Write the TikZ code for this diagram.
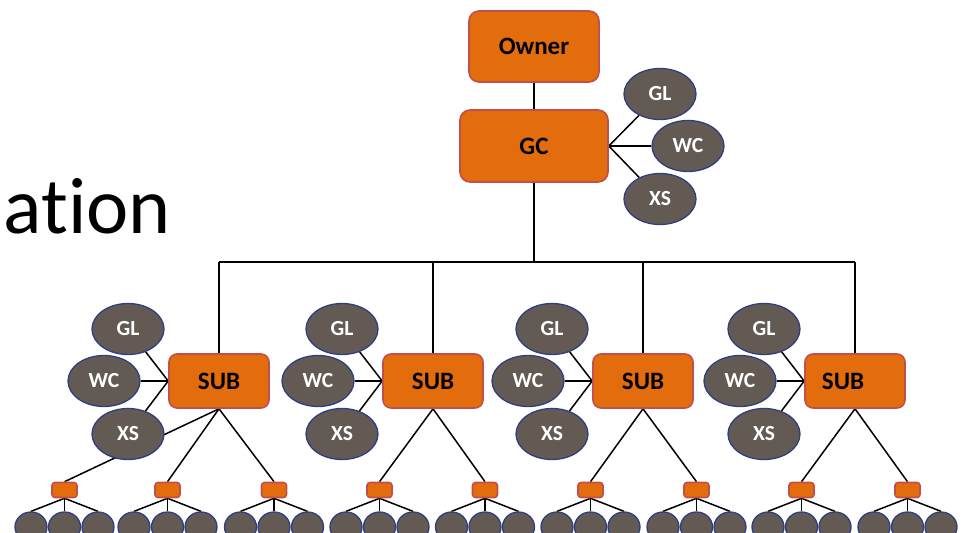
\documentclass[tikz,border=0pt]{standalone}
\usepackage{fontspec}
\setmainfont{Carlito}[Ligatures=NoCommon]
\usetikzlibrary{shapes.geometric}

\definecolor{boxorange}{RGB}{227,108,12}
\definecolor{boxedge}{RGB}{192,80,77}
\definecolor{ovalfill}{RGB}{99,91,83}
\definecolor{ovaledge}{RGB}{47,62,130}

\pgfdeclarelayer{bg}
\pgfsetlayers{bg,main}

\begin{document}
\begin{tikzpicture}[x=1pt,y=-1pt,
  role/.style={draw=boxedge, line width=1.6pt, fill=boxorange, inner sep=0pt,
    font=\fontsize{25}{25}\selectfont\bfseries},
  bigbox/.style={role, rounded corners=10pt},
  subbox/.style={role, rounded corners=8pt, minimum width=100pt, minimum height=54pt},
  leafbox/.style={role, rounded corners=3pt, minimum width=25pt, minimum height=15pt},
  oval/.style={ellipse, draw=ovaledge, line width=1.3pt, fill=ovalfill, inner sep=0pt,
    text=white, font=\fontsize{21.5}{21.5}\selectfont\bfseries,
    minimum width=72pt, minimum height=51pt},
  leafoval/.style={oval, minimum width=32pt, minimum height=30pt},
  link/.style={line width=1.5pt, black}
]
\useasboundingbox (0,0) rectangle (967,533);
\clip (0,0) rectangle (967,533);

% heading fragment
\node[anchor=base east, inner sep=0pt, font=\fontsize{80}{80}\selectfont] (title) at (171,233) {ation};

% owner and general contractor
\node[bigbox, minimum width=130pt, minimum height=71pt] (owner) at (534,46.5) {Owner};
\node[bigbox, minimum width=148pt, minimum height=72pt] (gc) at (534,146) {GC};
\node[oval] (gGL) at (660,94) {GL};
\node[oval] (gWC) at (688,146) {WC};
\node[oval] (gXS) at (660,199) {XS};

% subcontractors
\node[subbox] (s1) at (219,381) {SUB};
\node[subbox] (s2) at (433,381) {SUB};
\node[subbox] (s3) at (643,381) {SUB};
\node[subbox] (s4) at (855,381) {SUB\hspace*{24pt}};

\foreach \s/\x in {1/219,2/433,3/643,4/855}{
  \node[oval] (s\s GL) at (\x-91,329) {GL};
  \node[oval] (s\s WC) at (\x-115,381) {WC};
  \node[oval] (s\s XS) at (\x-91,434) {XS};
}

% sub-subcontractors and their own tiers
\foreach \l/\x in {1/64.5,2/167.5,3/274,4/379.5,5/485,6/590.5,7/696.5,8/801.5,9/907.5}{
  \node[leafbox] (l\l) at (\x,490) {};
  \node[leafoval] (l\l a) at (\x-33.5,527) {};
  \node[leafoval] (l\l b) at (\x,527) {};
  \node[leafoval] (l\l c) at (\x+33.5,527) {};
}

\begin{pgfonlayer}{bg}
  \coordinate (busL) at (219,262);
  \coordinate (busR) at (855,262);
  \draw[link] (owner.south) -- (gc.north);
  \draw[link] (gc.south) -- (gc.south |- busL);
  \draw[link] (busL) -- (busR);
  \foreach \s in {1,2,3,4}{
    \draw[link] (s\s.north) -- (s\s.north |- busL);
    \draw[link] (s\s.west) -- (s\s GL);
    \draw[link] (s\s.west) -- (s\s WC);
    \draw[link] (s\s.west) -- (s\s XS);
  }
  \draw[link] (gc.east) -- (gGL);
  \draw[link] (gc.east) -- (gWC);
  \draw[link] (gc.east) -- (gXS);
  \draw[link] (s1.south) -- (l1.north);
  \draw[link] (s1.south) -- (l2.north);
  \draw[link] (s1.south) -- (l3.north);
  \draw[link] (s2.south) -- (l4.north);
  \draw[link] (s2.south) -- (l5.north);
  \draw[link] (s3.south) -- (l6.north);
  \draw[link] (s3.south) -- (l7.north);
  \draw[link] (s4.south) -- (l8.north);
  \draw[link] (s4.south) -- (l9.north);
  \foreach \l in {1,...,9}{
    \draw[link] (l\l.south) -- (l\l a.north);
    \draw[link] (l\l.south) -- (l\l b.north);
    \draw[link] (l\l.south) -- (l\l c.north);
  }
\end{pgfonlayer}
\end{tikzpicture}
\end{document}
